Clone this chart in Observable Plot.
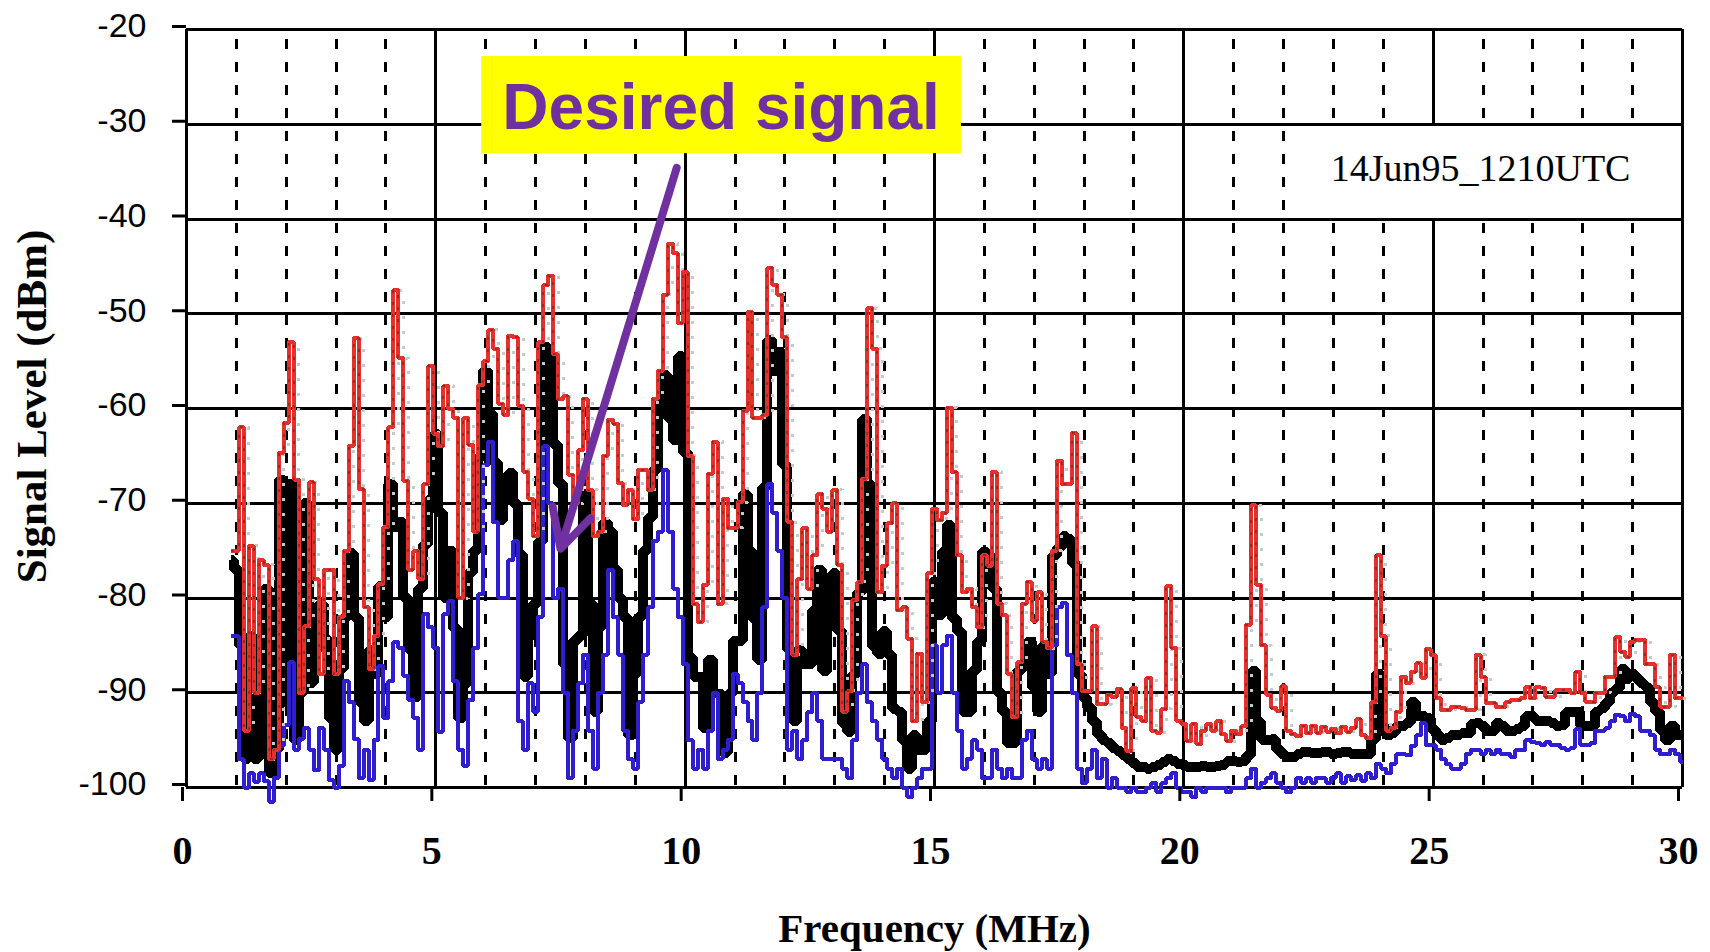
<!DOCTYPE html>
<html>
<head>
<meta charset="utf-8">
<script src="https://cdn.jsdelivr.net/npm/d3@7"></script>
<script src="https://cdn.jsdelivr.net/npm/@observablehq/plot@0.6"></script>
<style>
html, body { margin: 0; padding: 0; background: #fff; overflow: hidden; }
#chart svg { display: block; }
</style>
</head>
<body>
<div id="chart"></div>
<script>
// ---------- data ----------
const freq = [
 0.9,
 1.0,1.1,1.2,1.3,1.4,1.5,1.6,1.7,1.8,1.9,
 2.0,2.1,2.2,2.3,2.4,2.5,2.6,2.7,2.8,2.9,
 3.0,3.1,3.2,3.3,3.4,3.5,3.6,3.7,3.8,3.9,
 4.0,4.1,4.2,4.3,4.4,4.5,4.6,4.7,4.8,4.9,
 5.0,5.1,5.2,5.3,5.4,5.5,5.6,5.7,5.8,5.9,
 6.0,6.1,6.2,6.3,6.4,6.5,6.6,6.7,6.8,6.9,
 7.0,7.1,7.2,7.3,7.4,7.5,7.6,7.7,7.8,7.9,
 8.0,8.1,8.2,8.3,8.4,8.5,8.6,8.7,8.8,8.9,
 9.0,9.1,9.2,9.3,9.4,9.5,9.6,9.7,9.8,9.9,
 10.0,10.1,10.2,10.3,10.4,10.5,10.6,10.7,10.8,10.9,
 11.0,11.1,11.2,11.3,11.4,11.5,11.6,11.7,11.8,11.9,
 12.0,12.1,12.2,12.3,12.4,12.5,12.6,12.7,12.8,12.9,
 13.0,13.1,13.2,13.3,13.4,13.5,13.6,13.7,13.8,13.9,
 14.0,14.1,14.2,14.3,14.4,14.5,14.6,14.7,14.8,14.9,
 15.0,15.1,15.2,15.3,15.4,15.5,15.6,15.7,15.8,15.9,
 16.0,16.1,16.2,16.3,16.4,16.5,16.6,16.7,16.8,16.9,
 17.0,17.1,17.2,17.3,17.4,17.5,17.6,17.7,17.8,17.9,
 18.0,18.1,18.2,18.3,18.4,18.5,18.6,18.7,18.8,18.9,
 19.0,19.1,19.2,19.3,19.4,19.5,19.6,19.7,19.8,19.9,
 20.0,20.1,20.2,20.3,20.4,20.5,20.6,20.7,20.8,20.9,
 21.0,21.1,21.2,21.3,21.4,21.5,21.6,21.7,21.8,21.9,
 22.0,22.1,22.2,22.3,22.4,22.5,22.6,22.7,22.8,22.9,
 23.0,23.1,23.2,23.3,23.4,23.5,23.6,23.7,23.8,23.9,
 24.0,24.1,24.2,24.3,24.4,24.5,24.6,24.7,24.8,24.9,
 25.0,25.1,25.2,25.3,25.4,25.5,25.6,25.7,25.8,25.9,
 26.0,26.1,26.2,26.3,26.4,26.5,26.6,26.7,26.8,26.9,
 27.0,27.1,27.2,27.3,27.4,27.5,27.6,27.7,27.8,27.9,
 28.0,28.1,28.2,28.3,28.4,28.5,28.6,28.7,28.8,28.9,
 29.0,29.1,29.2,29.3,29.4,29.5,29.6,29.7,29.8,29.9,
 30.0
];

// red trace (peak)
const peakLevel = [
 -75,
 -75,-62,-94,-74.5,-90,-76,-76.5,-97,-96,-64.7,
 -61.5,-53,-67.5,-90,-83,-67.8,-78,-88,-77,-77,
 -88,-82,-75,-64,-52.6,-68.5,-81,-87.5,-84,-78.5,
 -72.5,-62,-47.5,-54.7,-67.6,-77,-75,-78,-68,-55.5,
 -62.7,-64,-57.6,-60,-61,-80,-61,-63.8,-73,-57.5,
 -55,-51.7,-53.7,-59.5,-60.7,-52.3,-52.5,-59.7,-66.7,-69.5,
 -73.5,-53,-47,-46,-54.3,-59,-58.7,-67,-70,-64.4,
 -59,-68.6,-73.5,-73,-65,-61.2,-61.6,-67.9,-70.2,-68.6,
 -71.7,-66.5,-66.5,-68.6,-59,-56,-48,-42.6,-43.6,-51,
 -45.6,-65,-80.6,-82.5,-78.6,-66.9,-63.5,-80.6,-69.5,-72.6,
 -72.6,-69.9,-60.3,-49.8,-61,-61,-60.7,-45.2,-47,-48,
 -52.5,-72,-86,-78,-72.6,-79,-75.5,-69,-70.6,-73,
 -68.6,-76.5,-92,-89.8,-80.2,-78.3,-67.4,-49.4,-53.7,-79.4,
 -76.6,-72.1,-70,-81.3,-81,-84.3,-93,-85.9,-91,-77.4,
 -70.6,-71.8,-71,-59.9,-66.7,-75.5,-79.4,-79,-81,-83.1,
 -75.5,-76.6,-66.7,-80.6,-81.8,-88,-92.6,-86.8,-80.6,-78.3,
 -82.4,-79.4,-84.6,-85.3,-75,-65.5,-68,-68,-62.6,-87,
 -89.8,-89.8,-83,-91.2,-91.2,-90.2,-90.5,-89.6,-93.7,-96.1,
 -89.5,-92.6,-93,-88.4,-94,-94.2,-91.7,-78.7,-85.3,-93,
 -93.3,-95.1,-93.3,-95.4,-94,-93.3,-94,-93,-94.4,-95.1,
 -94,-94.4,-93.5,-82.8,-70.2,-78.6,-85,-90.2,-91.6,-91.9,
 -89.3,-94,-94.4,-94.6,-93.5,-94.3,-93.5,-94.2,-93.6,-94.1,
 -93.8,-94.3,-93.6,-94.1,-93.7,-92.8,-94.5,-94.8,-91,-75.5,
 -84,-94,-93.7,-92,-88.3,-89,-87.8,-86.9,-88.4,-85.4,
 -86,-90.6,-91.8,-91.8,-91.5,-91.5,-91.6,-91.8,-91.8,-86,
 -88.3,-91.1,-91.1,-91.5,-91.5,-91,-90.8,-90.8,-90.6,-89.4,
 -90.6,-89.4,-89.5,-90.4,-90.4,-89.7,-89.7,-89.7,-90,-87.8,
 -90,-91,-91,-90,-90,-88.3,-88.3,-84.1,-85.7,-86.2,
 -84.6,-84.4,-84.4,-87,-87,-89.4,-91.5,-91.5,-86,-90.6,
 -90.6
];

// black trace (average)
const averageLevel = [
 -76,
 -77,-85,-97,-84,-97,-96,-79,-98.5,-96,-67.5,
 -91,-68,-95,-90,-70,-89,-85.5,-80.6,-84.3,-92.7,
 -96,-87.5,-82,-75.3,-82,-91,-93,-85.5,-88,-78.7,
 -82,-68,-72.5,-72,-80,-85.5,-90.5,-79,-74.3,-69.6,
 -62.7,-71,-80,-75,-83.3,-92.7,-89,-77.3,-75,-65,
 -56,-60.5,-65.7,-71.8,-68.3,-66.8,-70,-75.4,-88.3,-84,
 -80.6,-74,-53.5,-54.7,-63.8,-67.9,-87,-94.8,-84.5,-84,
 -69,-80.6,-92,-83,-72,-73,-77,-80,-82,-94.5,
 -88,-82,-75,-71.5,-66.5,-59.5,-56.5,-61,-63.3,-54.5,
 -64.6,-86.2,-88.3,-88.3,-93.7,-86.5,-90,-90.1,-96.4,-90.1,
 -84.5,-84.5,-69,-75,-82.2,-86.5,-68.3,-52.8,-56,-54,
 -66,-85.5,-93,-85.5,-87,-87,-81.3,-77,-87.7,-80,
 -77.4,-83.5,-93.3,-94.1,-88,-79.4,-61.1,-68,-85.1,-85.9,
 -83.5,-86,-91.7,-92,-95,-98,-94.5,-96,-96,-93,
 -78.3,-81.8,-75.1,-72.3,-82.2,-83.5,-92,-92,-87.7,-84.6,
 -75.1,-75.5,-79,-90,-92,-95.3,-95.3,-87.7,-86.9,-84.6,
 -89.4,-92,-85,-88,-75.5,-74.7,-73.5,-73.8,-76.3,-88,
 -90.5,-91.5,-93,-94.4,-95,-95.3,-95.8,-96.2,-96.6,-97,
 -97.4,-97.8,-97.8,-98,-97.8,-97.6,-97.3,-97,-97.2,-97.5,
 -97.6,-97.8,-97.8,-97.8,-97.7,-97.8,-97.8,-97.7,-97.6,-97.2,
 -97.2,-97.3,-97.2,-96.6,-87.7,-93,-95,-95,-94.9,-96,
 -96.5,-96.8,-96.8,-96.5,-96.3,-96.3,-96.4,-96.4,-96.3,-96.3,
 -96.5,-96.4,-96.3,-96.3,-96.5,-96.5,-96.5,-96.5,-95,-88,
 -93.5,-94.5,-94.2,-93.5,-93.5,-93.2,-91,-92.5,-92.5,-92.7,
 -93.8,-94.5,-95,-94.8,-94.5,-94.5,-94.3,-94.3,-93.3,-93.2,
 -93.5,-94,-94,-93.2,-93.5,-94,-94,-93.8,-93.5,-92.5,
 -92.5,-93,-93,-93,-93.2,-93.5,-93.4,-92,-92,-92,
 -93.5,-93.5,-93.5,-92,-91.6,-91,-90,-89.5,-87.5,-88.5,
 -88,-88.5,-89,-89.5,-91,-92,-94,-95,-93.5,-94.5,
 -94.5
];

// blue trace (minimum)
const minimumLevel = [
 -84,
 -84,-97,-100,-98.5,-99.4,-98.5,-99.3,-101.5,-99,-95.6,
 -93.4,-86.8,-96,-94.9,-93.7,-96,-98.2,-93.7,-96,-99.2,
 -100,-97.7,-88.8,-91,-94.9,-99,-96,-99.2,-95,-87.2,
 -92.7,-88.8,-84.6,-85.3,-88.2,-90.8,-92.7,-96,-81.7,-83.1,
 -85.3,-94.1,-81.7,-80.3,-88.8,-96,-97.7,-90.8,-85.3,-79.6,
 -66,-63.5,-72,-80,-80,-76,-74,-93,-96,-89,
 -92,-82,-64,-70,-80,-79,-90,-99,-94,-89,
 -86,-94,-98,-90,-86,-77,-82,-86,-94,-97,
 -98,-91,-86,-81,-74,-73,-66.5,-73,-79,-82,
 -87,-95,-98,-96,-98,-94,-90,-97,-96,-95,
 -88,-89,-91,-93,-95,-90,-81,-68,-71,-75,
 -80,-96,-94,-97,-95,-92,-90,-93,-97,-97,
 -97,-97,-98,-99,-95,-90,-87,-91,-93,-95,
 -97,-98,-99,-98,-100,-101,-100,-99,-98,-98,
 -85,-90,-85,-84,-90,-94,-98,-97,-95,-96,
 -99,-99,-96,-98,-99,-98,-99,-99,-95,-94,
 -97,-98,-97,-98,-85,-81,-80.5,-86,-90,-98,
 -99.5,-98,-96,-99,-97,-100,-99,-100,-100,-100.5,
 -100,-100.5,-100.5,-100,-99.5,-100.5,-99.5,-99,-98.5,-100,
 -100.5,-100.5,-101,-100,-100.5,-100,-100,-100,-100,-100.5,
 -100,-100,-100,-99,-98,-100,-99.5,-99,-98.5,-99.5,
 -100,-100.5,-100,-99,-99.5,-99,-99.5,-99,-99,-99.5,
 -99,-98.5,-99.5,-98.8,-99.2,-98.7,-99.3,-98.5,-99,-97.5,
 -98,-98.5,-97.5,-96.5,-96.5,-96.6,-95.6,-94.5,-93.2,-95.5,
 -95.5,-96,-97,-97.5,-98,-98,-97.5,-96.5,-96,-96,
 -96.5,-96,-96.5,-96,-96.5,-96.5,-96.8,-96,-96,-95,
 -95.2,-95.3,-95.5,-95.2,-95.5,-95.5,-95.8,-96,-95.8,-93.8,
 -95.5,-95.5,-95.3,-94,-94,-93.7,-93,-92.3,-92.5,-93,
 -92.2,-92.5,-94,-94,-94.5,-96,-96.5,-96.5,-96,-96.5,
 -97.3
];

// axes / ticks / texts
const xTicks = [0, 5, 10, 15, 20, 25, 30];
const xMinor = [1,2,3,4,6,7,8,9,11,12,13,14,16,17,18,19,21,22,23,24,26,27,28,29];
const yTicks = [-100, -90, -80, -70, -60, -50, -40, -30, -20];
const xTitle = "Frequency (MHz)";
const yTitle = "Signal Level (dBm)";
const calloutText = "Desired signal";
const stampText = "14Jun95_1210UTC";

// annotation placement (data coordinates)
const calloutBox = [{x1: 5.92, x2: 15.54, y1: -33.1, y2: -22.85}];
const calloutLabel = [{x: 10.72, y: -28.3, text: calloutText}];
const calloutArrow = [{x1: 9.83, y1: -34.6, x2: 7.5, y2: -74.8}];
const stampBox = [{x1: 22.4, x2: 30, y1: -40, y2: -30}];
const stampLabel = [{x: 25.95, y: -34.75, text: stampText}];

// ---------- build ----------
const rows = freq.map((f, i) => ({f, peak: peakLevel[i], avg: averageLevel[i], min: minimumLevel[i]}));

const RED = "#e6302b", BLUE = "#2f1ecf", PURPLE = "#7030a0";
const crisp = {shapeRendering: "crispEdges"};

const chart = Plot.plot({
  width: 1710,
  height: 952,
  marginLeft: 186,
  marginRight: 28,
  marginTop: 29,
  marginBottom: 165,
  x: {domain: [0, 30]},
  y: {domain: [-100, -20]},
  style: {background: "#fff", color: "#000", overflow: "visible"},
  marks: [
    // dashed minor verticals
    Plot.ruleX(xMinor, {stroke: "#000", strokeWidth: 3, strokeDasharray: "10,13", strokeDashoffset: 13, ...crisp}),
    // solid major verticals inside the frame
    Plot.ruleX(xTicks.filter(d => d > 0 && d < 30), {stroke: "#000", strokeWidth: 3, ...crisp}),
    // white box behind the time stamp
    Plot.rect(stampBox, {x1: "x1", x2: "x2", y1: "y1", y2: "y2", fill: "#fff"}),
    // horizontal grid + frame
    Plot.ruleY(yTicks, {stroke: "#000", strokeWidth: 3, ...crisp}),
    Plot.ruleX([0, 30], {stroke: "#000", strokeWidth: 3, ...crisp}),
    Plot.text(stampLabel, {x: "x", y: "y", text: "text", fontFamily: "Liberation Serif", fontSize: 38, fill: "#000", textAnchor: "middle"}),
    // traces
    Plot.line(rows, {x: "f", y: "avg", curve: "step", stroke: "#000", strokeWidth: 10, strokeLinejoin: "miter", strokeLinecap: "butt", ...crisp}),
    Plot.line(rows, {x: "f", y: "min", curve: "step", stroke: BLUE, strokeWidth: 4, strokeLinejoin: "miter", strokeLinecap: "butt", ...crisp}),
    Plot.line(rows, {x: "f", y: "peak", curve: "step", stroke: "#c3cccc", strokeWidth: 3, strokeDasharray: "3,12", dx: 5, strokeLinecap: "butt", ...crisp}),
    Plot.line(rows, {x: "f", y: "peak", curve: "step", stroke: RED, strokeWidth: 4, strokeLinejoin: "miter", strokeLinecap: "butt", ...crisp}),
    Plot.line(rows, {x: "f", y: "peak", curve: "step", stroke: "#9b2a20", strokeWidth: 2, strokeDasharray: "3,9", strokeLinecap: "butt", ...crisp}),
    // callout
    Plot.rect(calloutBox, {x1: "x1", x2: "x2", y1: "y1", y2: "y2", fill: "#ffff00"}),
    Plot.text(calloutLabel, {x: "x", y: "y", text: "text", fontFamily: "Liberation Sans", fontWeight: "bold", fontSize: 64, fill: PURPLE, textAnchor: "middle"}),
    Plot.arrow(calloutArrow, {x1: "x1", y1: "y1", x2: "x2", y2: "y2", stroke: PURPLE, strokeWidth: 8, headLength: 8, headAngle: 55}),
    // axes
    Plot.axisY({ticks: yTicks, tickSize: 14, tickPadding: 26, strokeWidth: 3, fontSize: 34, fontFamily: "Liberation Sans", tickFormat: d => String(d), label: null, dy: -3}),
    Plot.axisX({ticks: xTicks, tickSize: 14, tickPadding: 34, strokeWidth: 3, fontSize: 40, fontFamily: "Liberation Serif", fontWeight: "bold", tickFormat: d => String(d), label: null, dx: -4}),
    // axis titles
    Plot.text([xTitle], {text: d => d, frameAnchor: "bottom", lineAnchor: "top", dy: 125, fontFamily: "Liberation Serif", fontWeight: "bold", fontSize: 41, fill: "#000", letterSpacing: 2.6}),
    Plot.text([yTitle], {text: d => d, frameAnchor: "left", textAnchor: "middle", rotate: -90, dx: -154, dy: -2, fontFamily: "Liberation Serif", fontWeight: "bold", fontSize: 43, fill: "#000", letterSpacing: 1.5})
  ]
});

document.getElementById("chart").appendChild(chart);
</script>
</body>
</html>
